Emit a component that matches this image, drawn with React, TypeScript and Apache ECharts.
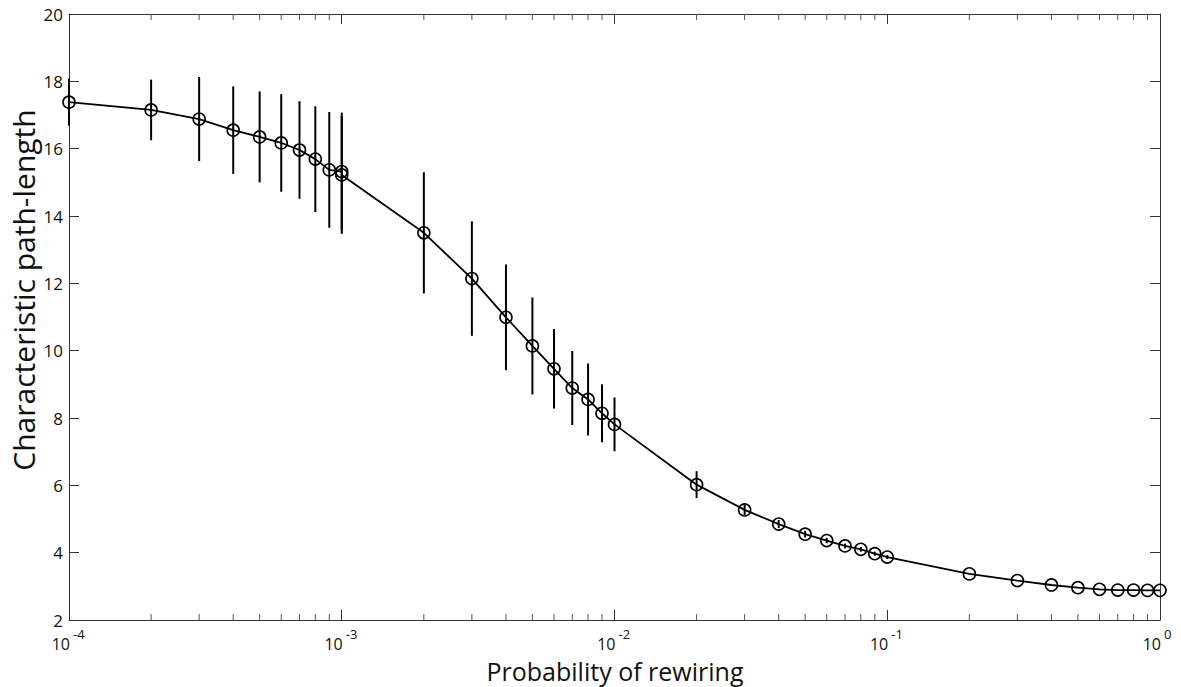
import React, { useEffect, useRef } from "react";
import * as echarts from "echarts";

const probabilities = [
  1e-4, 2e-4, 3e-4, 4e-4, 5e-4, 6e-4, 7e-4, 8e-4, 9e-4, 1e-3, 1e-3,
  2e-3, 3e-3, 4e-3, 5e-3, 6e-3, 7e-3, 8e-3, 9e-3, 1e-2,
  2e-2, 3e-2, 4e-2, 5e-2, 6e-2, 7e-2, 8e-2, 9e-2, 1e-1,
  2e-1, 3e-1, 4e-1, 5e-1, 6e-1, 7e-1, 8e-1, 9e-1, 1,
];
const pathLength = [
  17.38, 17.15, 16.88, 16.55, 16.35, 16.17, 15.96, 15.69, 15.37, 15.32, 15.22,
  13.5, 12.14, 10.99, 10.14, 9.46, 8.89, 8.55, 8.14, 7.81,
  6.02, 5.27, 4.85, 4.55, 4.36, 4.2, 4.1, 3.97, 3.87,
  3.37, 3.17, 3.04, 2.96, 2.91, 2.89, 2.89, 2.88, 2.88,
];
const errors = [
  0.7, 0.9, 1.25, 1.3, 1.35, 1.45, 1.45, 1.57, 1.72, 1.75, 1.75,
  1.8, 1.7, 1.57, 1.44, 1.18, 1.1, 1.07, 0.86, 0.8,
  0.4, 0.15, 0.12, 0.1, 0.08, 0.07, 0.07, 0.06, 0.06,
  0, 0, 0, 0, 0, 0, 0, 0, 0,
];
const xMin = 1e-4;
const xMax = 1;
const yMin = 2;
const yMax = 20;
const yInterval = 2;
const decadeTicks = [1e-4, 1e-3, 1e-2, 1e-1, 1];
const minorDecades = [1e-4, 1e-3, 1e-2, 1e-1];
const minorMultipliers = [2, 3, 4, 5, 6, 7, 8, 9];
const xTitle = "Probability of rewiring";
const yTitle = "Characteristic path-length";

const FONT = "Open Sans";
const AXIS_COLOR = "#333";
const TEXT_COLOR = "#111";

export default function App() {
  const ref = useRef<HTMLDivElement>(null);
  useEffect(() => {
    if (!ref.current) return;
    const chart = echarts.init(ref.current, null, { renderer: "svg" });

    const lineData = probabilities.map((p, i) => [p, pathLength[i]]);
    const errData = probabilities
      .map((p, i) => [p, pathLength[i] - errors[i], pathLength[i] + errors[i]])
      .filter((d, i) => errors[i] > 0);
    const minorTicks: number[][] = [];
    minorDecades.forEach((d) => minorMultipliers.forEach((m) => minorTicks.push([d * m])));
    const decadeData = decadeTicks.map((d) => [d]);

    chart.setOption({
      animation: false,
      backgroundColor: "#fff",
      grid: { left: 69, right: 21, top: 14, bottom: 67, containLabel: false },
      graphic: [
        {
          type: "text",
          x: 615,
          y: 671,
          style: {
            text: xTitle,
            fontFamily: FONT,
            fontSize: 25,
            fill: TEXT_COLOR,
            textAlign: "center",
            textVerticalAlign: "middle",
          },
        },
        {
          type: "text",
          x: 23,
          y: 290,
          rotation: Math.PI / 2,
          style: {
            text: yTitle,
            fontFamily: FONT,
            fontSize: 30,
            fill: TEXT_COLOR,
            textAlign: "center",
            textVerticalAlign: "middle",
          },
        },
      ],
      xAxis: [
        {
          type: "log",
          logBase: 10,
          min: xMin,
          max: xMax,
          axisLine: { show: true, lineStyle: { color: AXIS_COLOR, width: 1 } },
          axisTick: { show: true, inside: true, length: 10, lineStyle: { color: AXIS_COLOR } },
          splitLine: { show: false },
          axisLabel: { show: false },
        },
        {
          type: "log",
          logBase: 10,
          min: xMin,
          max: xMax,
          position: "top",
          axisLine: { show: true, onZero: false, lineStyle: { color: AXIS_COLOR, width: 1 } },
          axisTick: { show: true, inside: true, length: 10, lineStyle: { color: AXIS_COLOR } },
          axisLabel: { show: false },
          splitLine: { show: false },
        },
      ],
      yAxis: [
        {
          type: "value",
          min: yMin,
          max: yMax,
          interval: yInterval,
          axisLine: { show: true, lineStyle: { color: AXIS_COLOR, width: 1 } },
          axisTick: { show: true, inside: true, length: 10, lineStyle: { color: AXIS_COLOR } },
          splitLine: { show: false },
          axisLabel: { fontFamily: FONT, fontSize: 17, color: TEXT_COLOR, margin: 6 },
        },
        {
          type: "value",
          min: yMin,
          max: yMax,
          interval: yInterval,
          position: "right",
          axisLine: { show: true, onZero: false, lineStyle: { color: AXIS_COLOR, width: 1 } },
          axisTick: { show: true, inside: true, length: 10, lineStyle: { color: AXIS_COLOR } },
          axisLabel: { show: false },
          splitLine: { show: false },
        },
      ],
      series: [
        {
          type: "custom",
          name: "minorTicks",
          xAxisIndex: 0,
          yAxisIndex: 0,
          silent: true,
          clip: false,
          data: minorTicks,
          renderItem: (params: any, api: any) => {
            const x = api.value(0);
            const b = api.coord([x, yMin]);
            const t = api.coord([x, yMax]);
            const style = { stroke: "#555", lineWidth: 1 };
            return {
              type: "group",
              children: [
                { type: "line", shape: { x1: b[0], y1: b[1], x2: b[0], y2: b[1] - 6 }, style },
                { type: "line", shape: { x1: t[0], y1: t[1], x2: t[0], y2: t[1] + 6 }, style },
              ],
            };
          },
        },
        {
          type: "custom",
          name: "xLabels",
          xAxisIndex: 0,
          yAxisIndex: 0,
          silent: true,
          clip: false,
          data: decadeData,
          renderItem: (params: any, api: any) => {
            const v = api.value(0);
            const p = api.coord([v, yMin]);
            const e = Math.round(Math.log10(v));
            return {
              type: "group",
              children: [
                {
                  type: "text",
                  x: p[0] + 1,
                  y: p[1] + 24,
                  style: {
                    text: "10",
                    fontFamily: FONT,
                    fontSize: 16,
                    fill: TEXT_COLOR,
                    textAlign: "right",
                    textVerticalAlign: "middle",
                  },
                },
                {
                  type: "text",
                  x: p[0] + 4,
                  y: p[1] + 14,
                  style: {
                    text: String(e),
                    fontFamily: FONT,
                    fontSize: 13,
                    fill: TEXT_COLOR,
                    textAlign: "left",
                    textVerticalAlign: "middle",
                  },
                },
              ],
            };
          },
        },
        {
          type: "custom",
          name: "errors",
          xAxisIndex: 0,
          yAxisIndex: 0,
          silent: true,
          data: errData,
          renderItem: (params: any, api: any) => {
            const lo = api.coord([api.value(0), api.value(1)]);
            const hi = api.coord([api.value(0), api.value(2)]);
            return {
              type: "line",
              shape: { x1: lo[0], y1: lo[1], x2: hi[0], y2: hi[1] },
              style: { stroke: "#000", lineWidth: 2 },
            };
          },
          z: 3,
        },
        {
          type: "line",
          xAxisIndex: 0,
          yAxisIndex: 0,
          data: lineData,
          symbol: "circle",
          symbolSize: 12,
          lineStyle: { color: "#000", width: 1.8 },
          itemStyle: { color: "rgba(0,0,0,0)", borderColor: "#000", borderWidth: 1.6 },
          z: 4,
        },
      ],
    });
    return () => chart.dispose();
  }, []);
  return (
    <div
      ref={ref}
      style={{ position: "fixed", left: 0, top: 0, width: 1181, height: 687, background: "#fff" }}
    />
  );
}
